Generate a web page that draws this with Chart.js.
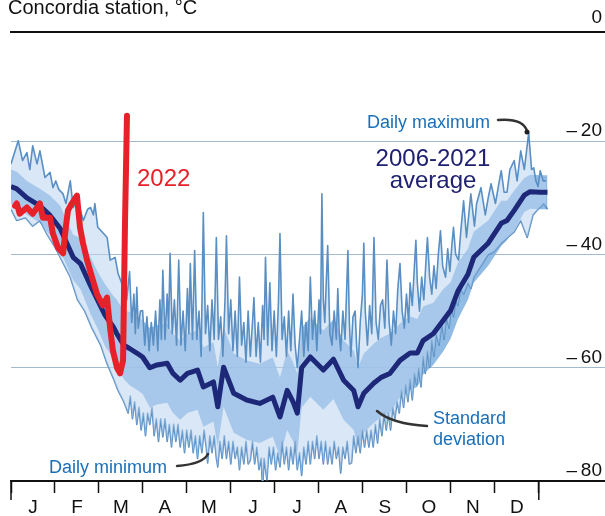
<!DOCTYPE html>
<html>
<head>
<meta charset="utf-8">
<style>
  html, body { margin: 0; padding: 0; background: #fff; }
  #wrap { position: relative; width: 605px; height: 516px; overflow: hidden; }
  canvas { display: block; }
</style>
<script src="https://cdn.jsdelivr.net/npm/chart.js@4.4.1/dist/chart.umd.min.js"></script>
</head>
<body>
<div id="wrap"><canvas id="c" width="605" height="516"></canvas></div>
<script>
// ---------------- DATA ----------------
const months = ['J','F','M','A','M','J','J','A','S','O','N','D'];
const yTickValues = [0, -20, -40, -60, -80];

// 2006-2021 average (day of year, °C)
const avgDays = [0,4,11,20,27,34,43,48,55,60,65,71,73,78,82,87,91,96,101,108,112,117,122,129,133,140,143,147,154,163,172,181,186,191,195,198,201,207,216,223,230,237,240,244,251,256,262,269,276,281,285,292,299,304,309,316,320,330,339,343,348,355,359,366,371];
const avgTemps = [-28,-28.4,-30,-31.4,-33.1,-35.4,-40.5,-41.6,-45.5,-48.1,-50.7,-52.9,-53.9,-56,-56.6,-57.4,-58.1,-60,-59.5,-59.2,-61,-62.2,-61,-60.4,-63.4,-62.5,-66.9,-59.9,-64.5,-65.7,-66.3,-65.2,-68.7,-64,-66,-68,-60,-58.1,-60.4,-58.5,-62.2,-64,-66.9,-64.5,-62.7,-61.7,-61,-58.7,-57.4,-57.4,-55.2,-54,-51.6,-49.9,-46.5,-43.5,-40.5,-38,-34.5,-34,-32.2,-29.5,-28.9,-29,-29];
// standard deviation at the same days
const stdDev = [3,3,3,3,3.5,4,4,4.5,5,5,5.5,5.5,6,6,6.5,6.5,6.5,7,7,7,7,7,7,7,7,7,7,7,7,7,7,7,7,7,7,7,7,7,7,7,7,7,7,7,7,7,7,6.5,6.5,6,6,5.5,5.5,5,5,4.5,4.5,4,4,3.5,3.5,3,3,3,3];

// daily maximum (day, °C)
const dailyMax = [[0,-24],[5,-19.9],[8,-23.4],[11,-22],[13,-25],[15,-20.8],[18,-24],[20,-21.7],[23.5,-26.4],[27,-25.5],[29,-28.2],[31,-27],[33,-28.5],[36,-29.3],[38,-31],[41,-27],[43,-31.7],[46,-30.5],[50,-34],[53,-32],[55,-31.7],[57,-33],[58,-31],[60,-35.2],[64,-36.3],[66.5,-37],[68.6,-41],[72,-40.5],[74,-43.3],[77.6,-45.8],[80,-48],
[82,-43],[83.5,-52],[85,-47],[86,-54],[87,-45.8],[88,-53],[89.5,-50],[91,-49.9],[92.5,-56],[94,-51],[95.5,-57],[97,-52],[98.5,-56],[100,-50],[101.5,-57],[103,-48],[104,-55],[105,-42.8],[106.5,-55],[108,-47],[109,-53],[110,-39.8],[111.5,-54],[113,-48],[114.5,-56],[116,-41],[117.5,-56],[119,-50],[120.5,-57],[122,-46],[123,-54],[124,-41.6],[125.5,-55],[127,-39.3],[128.5,-55],[130,-50],[131.5,-58],[133,-32.6],[134.5,-54],[136,-49],[137.5,-57],[139,-48],[140.5,-55],[142,-37],[143.5,-55],[145,-51],[146.5,-58],[148,-48],[149,-36.7],[150.5,-54],[152,-48],[153.5,-57],[155,-50],[156.5,-58],[158,-44],[159.5,-56],[161,-52],[162.5,-59],[164,-50],[165.5,-58],[167,-52],[168,-47.6],[169.5,-58],[171,-52],[172.5,-59],[174,-49],[175,-55],[176,-40.5],[177.5,-56],[179,-45],[180.5,-57],[182,-50],[183.5,-58],[185,-48],[186,-36.3],[187.5,-55],[189,-51],[190.5,-58],[192,-50],[193.5,-57],[195,-47],[196.5,-56],[198,-60],[199.5,-55],[201,-50],[202.5,-58],[204,-52],[205.5,-57],[207,-44],[208.5,-55],[210,-50],[211.5,-57],[213,-48],[214,-54],[215,-29.3],[216,-48],[217,-52],[218,-45],[219,-38.4],[220.5,-54],[222,-56],[223.5,-50],[225,-55],[226,-46],[227,-54],[228,-57],[229.5,-50],[231,-55],[233,-39.3],[234,-52],[235,-58],[236.5,-51],[238,-50],[239,-56],[240,-60],[241.5,-52],[243,-47],[244,-38],[245,-50],[246.5,-56],[248,-49],[249.5,-54],[251,-37],[252.5,-52],[254,-55],[255.5,-49],[257,-48],[258.5,-53],[260,-41],[261.5,-52],[263,-56],[264.5,-50],[266,-54],[267.5,-46],[269,-41.6],[270.5,-50],[272,-53],[273.5,-47],[275,-52],[276,-45],[277.5,-49],[279,-42],[280,-37.5],[281,-45],[282.5,-50],[284,-44],[285.5,-48],[287,-41],[288,-37],[289.5,-44],[291,-47],[292.5,-42],[294,-46],[295.5,-40],[297,-35.8],[298.5,-42],[300.5,-44],[302,-39],[303.5,-43],[305,-38],[306,-35.2],[307.5,-40],[309.5,-41],[311,-36],[313,-30.5],[315,-37],
[318,-29.3],[320.5,-35],[322,-31],[325,-28.2],[328,-33],[330,-30],[332,-27.5],[335,-31],[337,-28],[339,-25.2],[341,-29],[343,-29],[345,-25],[348,-23.4],[350,-27],[352.5,-21.7],[355,-25],[358,-18.5],[360,-25],[361.5,-24.7],[363,-27],[364.5,-28],[366,-25.2],[368,-27],[370,-27]];

// daily minimum (day, °C)
const dailyMin = [[0,-32],[4,-34],[10,-33.5],[15,-35],[20,-34],[25,-36.5],[30,-38.5],[35,-41],[41,-44],[46,-48],[51,-50],[56,-53],[62,-56],[66,-59],[71,-62],[74,-64],[78,-66],
[81,-68],[82.5,-65],[84,-69],[85.5,-66],[87,-70],[88.5,-67],[90,-71],[91.5,-68],[93,-72],[94.5,-68],[96,-70],[97.5,-67],[99,-72],[100.5,-69],[102,-73],[103.5,-69],[105,-72.2],[106.5,-69],[108,-73],[109.5,-70],[111,-74],[112.5,-70],[114,-73],[115.5,-70],[117,-74],[118.5,-71],[120,-75],[121.5,-71],[123,-74],[124.5,-71],[126,-75],[127.5,-72],[129,-76],[130.5,-72],[132,-75],[133.5,-71],[135,-74],[136,-76.8],[137.5,-72],[139,-75],[140.5,-72],[142,-76],[143,-77.5],[144.5,-73],[146,-76],[147.5,-72],[149,-76],[150.5,-73],[152,-77],[153.5,-73],[155,-76],[156.5,-74],[158,-78],[159.5,-74],[161,-77],[162.5,-73],[164,-77],[165.5,-76.3],[167,-73],[168.5,-77],[170,-74],[171.5,-78],[173,-76],[174,-81.6],[175,-76],[176,-78],[177,-79.8],[178.5,-74],[180,-77],[181.5,-74],[183,-78],[184.5,-75],[186,-77.5],[187.5,-73],[189,-77],[190.5,-74],[192,-78],[193.5,-74],[195,-77],[196.5,-73],[198,-78],[199.5,-75],[201,-79],[202.5,-74],[204,-77],[205.5,-73],[207,-77],[208.5,-73],[210,-76],[211.5,-72],[213,-76],[214.5,-73],[216,-77],[217.5,-73],[219,-77],[220.5,-74],[222,-77],[223.5,-73],[225,-76],[226.5,-74],[228,-78.6],[229.5,-74],[231,-76],[232.5,-73],[234,-77],[235.5,-76.8],[237,-72],[238.5,-75],[240,-72],[241.5,-75],[243,-71],[244.5,-74],[246,-71],[247.5,-74],[249,-71],[250.5,-74],[252,-70],[253.5,-73.3],[255,-69],[256.5,-72],[258,-68],[259.5,-71],[261,-68],[262.5,-71],[264,-67],[265.5,-69],[267,-66],[268.5,-68],[270,-64],[271.5,-67],[273,-63],[274.5,-66],[276,-62],[277.5,-65.7],[279,-61],[280.5,-63],[282,-60],[283.5,-63.4],[285,-58],[286.5,-61],[288,-57],[289.5,-59.9],[291,-55],[292.5,-58],[294,-54],[296,-56],[298,-52],[299.5,-55],[301,-51],[303,-53],[304.5,-49],[306,-51],[307.5,-48],[309,-49],[311,-46],[313,-47],[316,-45],[318,-46],
[320,-44],[325,-42],[330,-40],[334,-39.5],[339,-38],[343.5,-37],[348,-36],[352.5,-34],[357,-37],[361,-33],[364.5,-32],[368.5,-31],[371,-32]];

// 2022 (day, °C)
const year2022 = [[2.8,-31.4],[4,-31],[6,-32.8],[11,-31.7],[15,-32.8],[20,-31],[22,-33.5],[27,-33.5],[29,-36.3],[32.5,-38.8],[36,-39.8],[38,-35],[39.4,-32.2],[42,-31],[45.6,-29.6],[47.7,-35.2],[49.8,-38],[52.6,-41],[56,-44],[59.5,-47],[61.5,-48],[63.6,-49],[66.4,-47.6],[68.5,-52.9],[70.5,-57],[73.3,-60],[75.4,-61],[77.5,-58.7],[78.8,-35],[80.2,-15.5]];

// ---------------- BUILD ----------------
const DAYS_PER_MONTH = 365 / 12;
const pairsToXY = arr => arr.map(p => ({x: p[0], y: p[1]}));
const avgXY = avgDays.map((d, i) => ({x: d, y: avgTemps[i]}));
const sdUpper = avgDays.map((d, i) => ({x: d, y: avgTemps[i] + stdDev[i]}));
const sdLower = avgDays.map((d, i) => ({x: d, y: avgTemps[i] - stdDev[i]}));

const FONT = "'Liberation Sans', Arial, Helvetica, sans-serif";
const BLUE_TXT = '#1a6fb8';

const overlay = {
  id: 'overlay',
  afterDraw(chart) {
    const ctx = chart.ctx;
    const xs = chart.scales.x;
    const bottom = chart.chartArea.bottom;
    ctx.save();
    // top rule
    ctx.fillStyle = '#111';
    ctx.fillRect(10, 31, 595, 2);
    // longer end ticks
    ctx.strokeStyle = '#111';
    ctx.lineWidth = 1.5;
    [0, 365].forEach(v => {
      const px = xs.getPixelForValue(v);
      ctx.beginPath(); ctx.moveTo(px, bottom); ctx.lineTo(px, bottom + 19); ctx.stroke();
    });
    // title
    ctx.textBaseline = 'alphabetic';
    ctx.textAlign = 'left';
    ctx.fillStyle = '#111';
    ctx.font = '20px ' + FONT;
    ctx.fillText('Concordia station, °C', 8, 14);
    // 2022
    ctx.fillStyle = '#e62129';
    ctx.font = '24px ' + FONT;
    ctx.fillText('2022', 137, 186);
    // average label
    ctx.fillStyle = '#1f2170';
    ctx.textAlign = 'center';
    ctx.fillText('2006-2021', 433, 166);
    ctx.fillText('average', 433, 188);
    // blue annotation labels
    ctx.fillStyle = BLUE_TXT;
    ctx.font = '18px ' + FONT;
    ctx.textAlign = 'left';
    ctx.fillText('Daily maximum', 367, 128);
    ctx.fillText('Standard', 433, 424);
    ctx.fillText('deviation', 433, 445);
    ctx.fillText('Daily minimum', 49, 473);
    // leader lines
    ctx.strokeStyle = '#333';
    ctx.lineWidth = 2.5;
    ctx.lineCap = 'round';
    ctx.beginPath(); ctx.moveTo(498, 120); ctx.quadraticCurveTo(523, 118, 527, 131); ctx.stroke();
    ctx.fillStyle = '#222';
    ctx.beginPath(); ctx.arc(527, 132, 2.5, 0, Math.PI * 2); ctx.fill();
    ctx.beginPath(); ctx.moveTo(427, 426); ctx.quadraticCurveTo(392, 424, 377, 411); ctx.stroke();
    ctx.beginPath(); ctx.moveTo(177, 466); ctx.quadraticCurveTo(203, 464, 208, 454); ctx.stroke();
    ctx.restore();
  }
};

new Chart(document.getElementById('c'), {
  type: 'line',
  data: {
    datasets: [
      { label: '2022', data: pairsToXY(year2022), borderColor: '#e62129', borderWidth: 6, borderCapStyle: 'round' },
      { label: '2006-2021 average', data: avgXY, borderColor: '#1e2878', borderWidth: 5 },
      { label: 'Daily maximum', data: pairsToXY(dailyMax), borderColor: '#5a8fc4', borderWidth: 1.6, fill: { target: '+1' }, backgroundColor: 'rgba(185,212,238,0.55)' },
      { label: 'Daily minimum', data: pairsToXY(dailyMin), borderColor: '#5a8fc4', borderWidth: 1.6 },
      { label: 'SD upper', data: sdUpper, borderWidth: 0, borderColor: 'rgba(0,0,0,0)', fill: '+1', backgroundColor: 'rgba(120,172,222,0.82)' },
      { label: 'SD lower', data: sdLower, borderWidth: 0, borderColor: 'rgba(0,0,0,0)', fill: false }
    ]
  },
  options: {
    responsive: false,
    animation: false,
    devicePixelRatio: 1,
    layout: { padding: { left: 11, top: 28, right: 0, bottom: 0 } },
    elements: {
      point: { radius: 0, hoverRadius: 0 },
      line: { tension: 0, borderJoinStyle: 'round' }
    },
    plugins: { legend: { display: false }, tooltip: { enabled: false }, title: { display: false }, filler: { propagate: false } },
    scales: {
      x: {
        type: 'linear',
        min: 0,
        max: 365 * 594 / 527.8,
        afterBuildTicks: s => {
          const t = [];
          for (let i = 0; i <= 24; i++) t.push({ value: i * DAYS_PER_MONTH / 2 });
          s.ticks = t;
        },
        afterFit: s => { s.height = 35; },
        ticks: {
          autoSkip: false,
          maxRotation: 0,
          padding: 3,
          color: '#111',
          font: { family: FONT, size: 19 },
          callback: (v, i) => (i % 2 === 1 ? months[(i - 1) / 2] : '')
        },
        grid: {
          drawOnChartArea: false,
          tickLength: 12,
          tickWidth: 1.5,
          tickColor: c => (c.index % 2 === 0 ? '#111' : 'rgba(0,0,0,0)')
        },
        border: { display: true, color: '#111', width: 2 }
      },
      y: {
        type: 'linear',
        position: 'right',
        min: -80,
        max: 0,
        afterBuildTicks: s => { s.ticks = yTickValues.map(v => ({ value: v })); },
        afterFit: s => { s.width = 0; },
        ticks: {
          mirror: true,
          padding: -3,
          labelOffset: -10,
          color: '#111',
          font: { family: FONT, size: 19 },
          callback: v => (v === 0 ? '0' : '\u2013\u2009' + Math.abs(v))
        },
        grid: {
          drawTicks: false,
          tickLength: 0,
          lineWidth: 1,
          color: c => ([-20, -40, -60].includes(c.tick && c.tick.value) ? '#a3bacd' : 'rgba(0,0,0,0)')
        },
        border: { display: false }
      }
    }
  },
  plugins: [overlay]
});
</script>
</body>
</html>
